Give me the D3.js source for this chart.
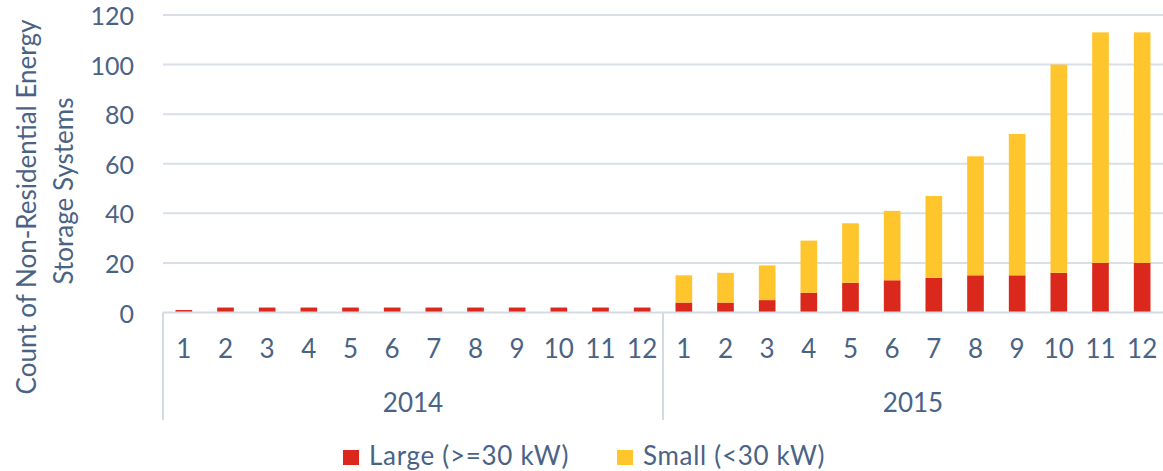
<!DOCTYPE html>
<html>
<head>
<meta charset="utf-8">
<script src="https://cdn.jsdelivr.net/npm/d3@7"></script>
<style>
  html, body { margin: 0; padding: 0; background: #fff; }
  svg { display: block; font-family: Lato, "Open Sans", sans-serif; }
</style>
</head>
<body>
<svg id="chart" width="1163" height="471"></svg>
<script>
// Monthly counts of non-residential energy storage systems, by size class
const years = ["2014", "2015"];
const months = ["1", "2", "3", "4", "5", "6", "7", "8", "9", "10", "11", "12"];
const largeCounts = [1, 2, 2, 2, 2, 2, 2, 2, 2, 2, 2, 2,
                     4, 4, 5, 8, 12, 13, 14, 15, 15, 16, 20, 20];
const smallCounts = [0, 0, 0, 0, 0, 0, 0, 0, 0, 0, 0, 0,
                     11, 12, 14, 21, 24, 28, 33, 48, 57, 84, 93, 93];
const seriesNames = ["Large (>=30 kW)", "Small (<30 kW)"];
const seriesColors = ["#DA291C", "#FFC52C"];
const yTicks = [0, 20, 40, 60, 80, 100, 120];
const yTitleLines = ["Count of Non-Residential Energy", "Storage Systems"];

const textColor = "#4A6385";
const gridColor = "#D9DEE7";
const axisColor = "#D3DAE4";
const fontSize = 26;

const svg = d3.select("#chart");
const plot = { left: 163, right: 1163, top: 15, bottom: 312.5, axisBottom: 420 };

// one slot per year/month pair
const keys = [];
years.forEach(yr => months.forEach(m => keys.push(yr + "-" + m)));
const rows = keys.map((k, i) => ({
  key: k, year: k.split("-")[0], month: k.split("-")[1],
  large: largeCounts[i], small: smallCounts[i]
}));

const x = d3.scaleBand().domain(keys).range([plot.left, plot.right])
  .paddingInner(0.6).paddingOuter(0.3);
const y = d3.scaleLinear().domain([0, 120]).range([plot.bottom, plot.top]);

// horizontal gridlines
svg.append("g").selectAll("line").data(yTicks.filter(t => t > 0)).join("line")
  .attr("x1", plot.left).attr("x2", plot.right)
  .attr("y1", d => y(d)).attr("y2", d => y(d))
  .attr("stroke", gridColor).attr("stroke-width", 2);

// y tick labels
svg.append("g").selectAll("text").data(yTicks).join("text")
  .attr("x", 134).attr("y", d => y(d))
  .attr("dy", "0.4em")
  .attr("text-anchor", "end")
  .attr("fill", textColor).attr("font-size", 25)
  .text(d => d);

// stacked bars
const stack = d3.stack().keys(["large", "small"]);
const layers = stack(rows);
svg.append("g").selectAll("g").data(layers).join("g")
  .attr("fill", (d, i) => seriesColors[i])
  .selectAll("rect").data(d => d).join("rect")
  .attr("x", d => x(d.data.key))
  .attr("width", x.bandwidth())
  .attr("y", d => y(d[1]))
  .attr("height", d => Math.max(0, y(d[0]) - y(d[1])));

// category axis frame: baseline plus year separators
const step = x.step();
const edges = [plot.left, plot.left + step * months.length, plot.right];
const axisG = svg.append("g").attr("stroke", axisColor).attr("stroke-width", 2);
axisG.append("line")
  .attr("x1", plot.left).attr("x2", plot.right)
  .attr("y1", plot.bottom).attr("y2", plot.bottom);
axisG.selectAll("line.sep").data(edges.slice(0, 2)).join("line").attr("class", "sep")
  .attr("x1", d => d).attr("x2", d => d)
  .attr("y1", plot.bottom).attr("y2", plot.axisBottom);

// month labels
svg.append("g").selectAll("text").data(rows).join("text")
  .attr("x", d => x(d.key) + x.bandwidth() / 2)
  .attr("y", 349).attr("dy", "0.36em")
  .attr("text-anchor", "middle")
  .attr("fill", textColor).attr("font-size", fontSize)
  .text(d => d.month);

// year labels
svg.append("g").selectAll("text").data(years).join("text")
  .attr("x", (d, i) => (edges[i] + edges[i + 1]) / 2)
  .attr("y", 403).attr("dy", "0.36em")
  .attr("text-anchor", "middle")
  .attr("fill", textColor).attr("font-size", fontSize)
  .text(d => d);

// y axis title (two rotated lines)
const titlePos = [{ x: 36, y: 207 }, { x: 73, y: 191 }];
svg.append("g").selectAll("text").data(yTitleLines).join("text")
  .attr("transform", (d, i) => `translate(${titlePos[i].x},${titlePos[i].y}) rotate(-90)`)
  .attr("text-anchor", "middle")
  .attr("fill", textColor).attr("font-size", fontSize)
  .text(d => d);

// legend
const legendItems = [{ sx: 343, tx: 369 }, { sx: 617, tx: 643 }];
const legend = svg.append("g");
legend.selectAll("rect").data(seriesNames).join("rect")
  .attr("x", (d, i) => legendItems[i].sx).attr("y", 450)
  .attr("width", 16).attr("height", 15)
  .attr("fill", (d, i) => seriesColors[i]);
legend.selectAll("text").data(seriesNames).join("text")
  .attr("x", (d, i) => legendItems[i].tx).attr("y", 465)
  .attr("fill", textColor).attr("font-size", fontSize)
  .attr("letter-spacing", 0.7)
  .text(d => d);
</script>
</body>
</html>
